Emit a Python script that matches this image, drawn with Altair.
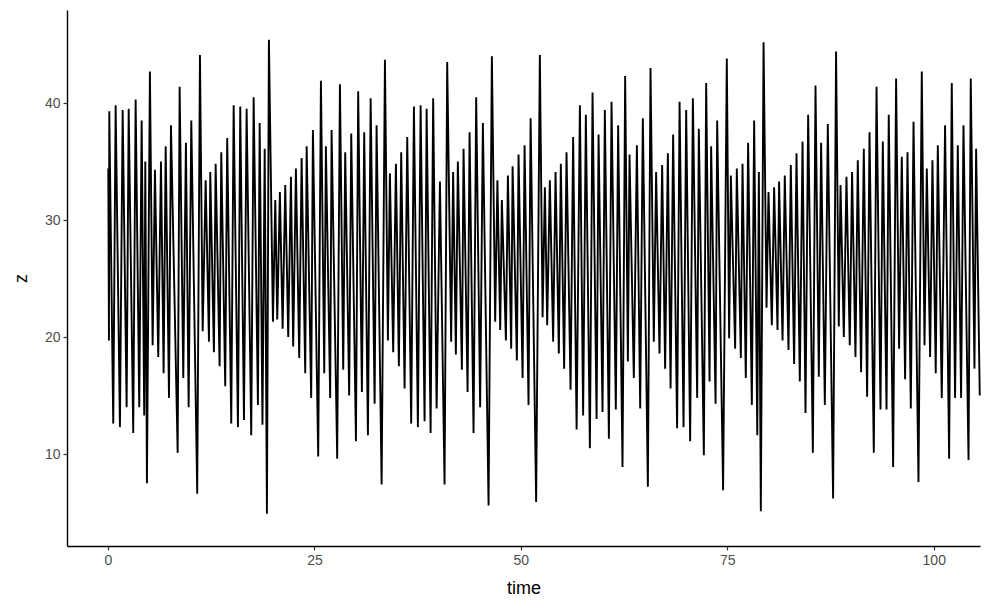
import altair as alt
import pandas as pd

# extrema of the z series (time, z), segment by segment
t_a = [0.04, 0.12, 0.16, 0.64, 0.93, 1.45, 1.78, 2.26, 2.51, 3.06, 3.35, 3.79, 4.08, 4.39, 4.52, 4.72, 5.08, 5.41, 5.69, 6.09, 6.42, 6.74, 6.99, 7.39, 7.63, 8.44, 8.68, 9.12, 9.44, 9.77]
z_a = [34.4, 19.7, 39.3, 12.6, 39.8, 12.3, 39.4, 14.0, 39.5, 11.8, 40.3, 14.0, 38.5, 13.3, 35.0, 7.5, 42.7, 19.3, 34.3, 18.3, 35.0, 16.9, 36.3, 14.8, 38.1, 10.1, 41.4, 16.5, 36.6, 14.0]

t_b = [10.09, 10.81, 11.14, 11.47, 11.83, 12.23, 12.39, 12.83, 13.04, 13.52, 13.72, 14.20, 14.44, 14.93, 15.22, 15.74, 16.02, 16.47, 16.79, 17.35, 17.64, 18.16, 18.37, 18.71, 18.98, 19.25, 19.49, 19.98, 20.26, 20.50]
z_b = [38.5, 6.6, 44.1, 20.5, 33.4, 19.6, 34.1, 18.7, 34.8, 17.5, 35.8, 15.8, 37.0, 12.6, 39.8, 12.3, 39.7, 12.9, 39.5, 11.6, 40.5, 14.2, 38.3, 12.5, 36.1, 4.9, 45.4, 21.3, 31.7, 21.5]

t_c = [20.82, 21.15, 21.47, 21.83, 22.16, 22.43, 22.76, 23.16, 23.45, 23.89, 24.06, 24.61, 24.82, 25.46, 25.79, 26.19, 26.39, 26.91, 27.08, 27.76, 28.09, 28.49, 28.73, 29.21, 29.46, 30.03, 30.30, 30.75, 31.03]
z_c = [32.4, 20.7, 33.0, 20.0, 33.7, 19.2, 34.4, 18.2, 35.3, 16.9, 36.3, 14.8, 37.7, 9.8, 41.9, 16.9, 36.3, 14.8, 37.7, 9.6, 41.6, 17.2, 35.8, 15.0, 37.4, 11.1, 41.0, 15.3, 37.5]

t_d = [31.48, 31.81, 32.29, 32.53, 33.14, 33.54, 33.90, 34.14, 34.54, 34.87, 35.23, 35.51, 35.92, 36.24, 36.72, 37.05, 37.53, 37.86, 38.34, 38.59, 39.07, 39.38, 39.80, 40.20, 40.76, 41.08, 41.56, 41.80]
z_d = [11.6, 40.4, 14.3, 38.1, 7.4, 43.7, 19.7, 34.0, 18.7, 34.8, 17.5, 35.8, 15.6, 37.1, 12.6, 39.7, 12.3, 39.8, 12.8, 39.5, 11.8, 40.4, 13.9, 33.3, 7.4, 43.5, 19.6, 34.1]

t_e = [42.13, 42.37, 42.86, 43.06, 43.55, 43.79, 44.27, 44.59, 45.07, 45.40, 46.09, 46.49, 46.89, 47.16, 47.50, 47.70, 48.19, 48.43, 48.83, 49.00, 49.52, 49.72, 50.21, 50.45, 50.93, 51.18, 51.85, 52.30]
z_e = [18.5, 35.0, 17.2, 36.1, 15.3, 37.5, 11.8, 40.5, 14.0, 38.3, 5.6, 44.0, 21.3, 33.4, 20.6, 31.7, 19.7, 33.8, 19.0, 34.6, 18.0, 35.6, 16.5, 36.4, 14.2, 38.7, 5.9, 44.1]

t_f = [52.63, 52.91, 53.19, 53.51, 53.91, 54.20, 54.60, 54.84, 55.24, 55.53, 56.02, 56.33, 56.75, 57.15, 57.54, 57.87, 58.36, 58.68, 59.17, 59.41, 59.89, 60.17, 60.66, 60.98, 61.50, 61.78, 62.31, 62.63]
z_f = [21.7, 32.8, 21.0, 33.4, 19.6, 34.1, 18.6, 34.8, 17.3, 35.8, 15.5, 37.1, 12.1, 39.8, 13.3, 39.0, 10.5, 40.9, 13.0, 37.3, 13.6, 39.4, 11.3, 40.1, 13.8, 38.1, 8.9, 42.3]

t_g = [62.96, 63.16, 63.68, 64.05, 64.45, 64.77, 65.38, 65.70, 66.10, 66.38, 66.79, 67.11, 67.47, 67.80, 68.13, 68.44, 68.92, 69.22, 69.70, 70.02, 70.50, 70.83, 71.35, 71.55, 72.16, 72.44, 72.85, 73.04, 73.58, 73.77]
z_g = [17.9, 35.6, 16.5, 36.4, 13.9, 38.7, 7.2, 43.0, 19.6, 34.1, 18.6, 34.7, 17.3, 35.7, 15.6, 37.3, 12.2, 40.1, 12.3, 39.4, 11.1, 40.4, 14.8, 37.8, 9.9, 41.7, 16.2, 36.3, 14.3, 38.5]

t_h = [74.49, 74.94, 75.22, 75.43, 75.95, 76.15, 76.64, 76.84, 77.24, 77.52, 77.97, 78.25, 78.63, 78.82, 79.06, 79.39, 79.75, 79.99, 80.39, 80.67, 81.08, 81.27, 81.69, 81.96, 82.41, 82.69, 83.09, 83.38, 83.78, 84.11]
z_h = [6.9, 43.8, 19.9, 33.8, 19.0, 34.4, 18.2, 34.8, 16.5, 36.6, 14.2, 38.5, 11.6, 34.1, 5.1, 45.2, 22.5, 32.4, 21.0, 32.8, 20.6, 33.3, 19.7, 33.8, 18.9, 34.7, 17.7, 35.7, 16.2, 36.7]

t_i = [84.47, 84.79, 85.36, 85.68, 86.08, 86.36, 86.81, 87.17, 87.81, 88.17, 88.50, 88.71, 89.11, 89.43, 89.83, 90.11, 90.52, 90.80, 91.20, 91.53, 91.93, 92.22, 92.74, 93.07, 93.55, 93.83, 94.28, 94.55, 95.08]
z_i = [13.5, 39.0, 10.1, 41.5, 16.6, 36.6, 14.2, 38.2, 6.2, 44.4, 20.9, 33.0, 20.0, 33.7, 19.3, 34.1, 18.3, 35.1, 17.0, 36.1, 14.9, 37.5, 10.1, 41.4, 13.8, 36.7, 13.8, 39.0, 8.9]

t_j = [95.44, 95.80, 96.13, 96.53, 96.82, 97.22, 97.55, 98.15, 98.55, 98.88, 99.16, 99.56, 99.84, 100.24, 100.49, 100.97, 101.37, 101.86, 102.18, 102.58, 102.91, 103.31, 103.60, 104.21, 104.48, 104.93, 105.13, 105.57]
z_j = [42.1, 19.0, 35.4, 16.4, 35.8, 13.9, 38.4, 7.6, 42.7, 19.3, 34.4, 18.3, 35.1, 16.9, 36.4, 14.8, 38.1, 9.6, 41.7, 14.8, 36.4, 14.8, 38.1, 9.5, 42.1, 17.3, 36.1, 15.0]

x_ticks = [0, 25, 50, 75, 100]
y_ticks = [10, 20, 30, 40]

time = t_a + t_b + t_c + t_d + t_e + t_f + t_g + t_h + t_i + t_j
zval = z_a + z_b + z_c + z_d + z_e + z_f + z_g + z_h + z_i + z_j
df = pd.DataFrame({"time": time, "z": zval})

axis_common = dict(
    domainColor="black", domainWidth=1.4, tickColor="#333333", tickWidth=1.2,
    tickSize=4, grid=False, labelColor="#4d4d4d", labelFont="Liberation Sans",
    labelFontSize=14, titleFont="Liberation Sans", titleFontSize=18,
    titleColor="black", titleFontWeight="normal", labelPadding=3,
)

chart = alt.Chart(df).mark_line(color="black", strokeWidth=1.9).encode(
    x=alt.X("time:Q", title="time",
            scale=alt.Scale(domain=[-4.96, 105.6], nice=False, zero=False),
            axis=alt.Axis(values=x_ticks, titlePadding=12, **axis_common)),
    y=alt.Y("z:Q", title="z",
            scale=alt.Scale(domain=[2.14, 47.95], nice=False, zero=False),
            axis=alt.Axis(values=y_ticks, titlePadding=14, **axis_common)),
    order="time:Q",
).properties(
    width=913, height=536,
    autosize=alt.AutoSizeParams(type="none"),
    padding={"left": 59, "top": 2, "right": 3, "bottom": 58},
).configure(background="white").configure_view(strokeOpacity=0, strokeWidth=0)

chart.save("out.html", embed_options={"renderer": "svg", "actions": False})
